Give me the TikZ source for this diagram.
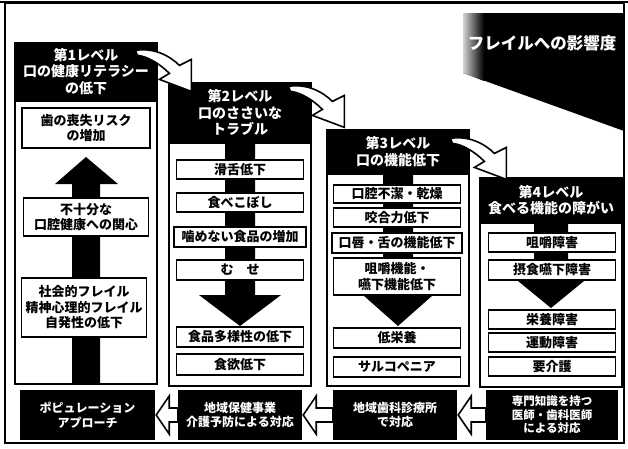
\documentclass[tikz,border=0pt]{standalone}
\usepackage{fontspec}
\setmainfont{Noto Sans CJK JP}
\usetikzlibrary{calc}
\begin{document}
\begin{tikzpicture}[x=1pt,y=-1pt,
  hdr/.style={fill=black,draw=black,line width=1.2pt,text=white,align=center,inner sep=0pt,font=\bfseries\fontsize{14}{16.5}\selectfont},
  ibox/.style={draw=black,fill=white,line width=1.7pt,align=center,inner sep=0pt,font=\bfseries\fontsize{13}{15.5}\selectfont,minimum width=127pt},
  frm/.style={draw=black,line width=1.8pt,inner sep=0pt},
  bbox/.style={fill=black,text=white,align=center,inner sep=0pt,minimum height=50pt,font=\bfseries\fontsize{12}{14.5}\selectfont},
  barrow/.style={fill=white,draw=black,line width=1.6pt,line join=miter},
  bigarrow/.style={fill=black},
  harrow/.pic={\draw[barrow] (-56,-41) .. controls (-38,-44) and (-22,-36) .. (-12,-26) -- (0,-32) -- (0,0) -- (-32,-12) -- (-22,-18) .. controls (-32,-28) and (-44,-35) .. (-54,-36) -- cycle;}
]
\useasboundingbox (0,0) rectangle (628,448);
% outer frame
\draw[line width=1.5pt] (5,3) rectangle (624,443);
\draw[line width=2.5pt] (0,2) -- (628,2);
% title
\fill (463,13) -- (624,13) -- (624,131) -- (463,73) -- cycle;
\shade[left color=gray!35,right color=black] (463,13) -- (484,13) -- (484,81) -- (463,73) -- cycle;
\node[text=white,font=\bfseries\fontsize{16.5}{19}\selectfont] (title) at (542,43) {フレイルへの影響度};

% column frames
\node[frm,minimum width=142pt,minimum height=283pt,anchor=north] (f1) at (86,100) {};
\node[frm,minimum width=142pt,minimum height=243pt,anchor=north] (f2) at (240,142) {};
\node[frm,minimum width=142pt,minimum height=212pt,anchor=north] (f3) at (398,173) {};
\node[frm,minimum width=142pt,minimum height=164pt,anchor=north] (f4) at (551,222) {};

% big arrows
\fill[bigarrow] (72,383) -- (72,184) -- (55,184) -- (86,157) -- (118,184) -- (100,184) -- (100,383) -- cycle;
\fill[bigarrow] (225,142) -- (225,295) -- (199,295) -- (240,326) -- (281,295) -- (255,295) -- (255,142) -- cycle;
\fill[bigarrow] (383,173) -- (383,295) -- (363,295) -- (398,326) -- (433,295) -- (413,295) -- (413,173) -- cycle;
\fill[bigarrow] (534,222) -- (534,281) -- (518,281) -- (551,308) -- (584,281) -- (568,281) -- (568,222) -- cycle;

% column 1 boxes
\node[ibox,minimum width=128pt,minimum height=40pt] (a1) at (86,128) {歯の喪失リスク\\の増加};
\node[ibox,minimum width=125pt,minimum height=38pt] (a2) at (86,217) {不十分な\\口腔健康への関心};
\node[ibox,minimum width=125pt,minimum height=59pt] (a3) at (84,307.5) {社会的フレイル\\精神心理的フレイル\\自発性の低下};

% column 2 boxes
\node[ibox,minimum height=19pt] (b21) at (240,169.5) {滑舌低下};
\node[ibox,minimum height=19pt] (b22) at (240,202.5) {食べこぼし};
\node[ibox,minimum width=132pt,minimum height=20pt] (b23) at (240,237) {噛めない食品の増加};
\node[ibox,minimum height=20pt] (b24) at (240,270) {む　せ};
\node[ibox,minimum height=20pt] (b25) at (240,337) {食品多様性の低下};
\node[ibox,minimum height=21pt] (b26) at (240,364.5) {食欲低下};

% column 3 boxes
\node[ibox,minimum height=18pt] (b31) at (397,194) {口腔不潔・乾燥};
\node[ibox,minimum height=19pt] (b32) at (397,217.5) {咬合力低下};
\node[ibox,minimum width=130pt,minimum height=20pt] (b33) at (397,243) {口唇・舌の機能低下};
\node[ibox,minimum height=37pt] (b34) at (397,276.5) {咀嚼機能・\\嚥下機能低下};
\node[ibox,minimum height=20pt] (b35) at (397,338) {低栄養};
\node[ibox,minimum height=20pt] (b36) at (397,367) {サルコペニア};

% column 4 boxes
\node[ibox,minimum height=19pt] (b41) at (552,242.5) {咀嚼障害};
\node[ibox,minimum height=20pt] (b42) at (552,270) {摂食嚥下障害};
\node[ibox,minimum height=19pt] (b43) at (552,319.5) {栄養障害};
\node[ibox,minimum height=19pt] (b44) at (552,342.5) {運動障害};
\node[ibox,minimum height=19pt] (b45) at (552,366.5) {要介護};

% headers
\node[hdr,minimum width=142pt,minimum height=57pt] (h1) at (86,71.5) {第1レベル\\口の健康リテラシー\\の低下};
\node[hdr,minimum width=142pt,minimum height=59pt] (h2) at (240,112.5) {第2レベル\\口のささいな\\トラブル};
\node[hdr,minimum width=142pt,minimum height=43pt] (h3) at (398,151.5) {第3レベル\\口の機能低下};
\node[hdr,minimum width=142pt,minimum height=44pt] (h4) at (551,200) {第4レベル\\食べる機能の障がい};

% curved arrows between headers
\pic at ($(h2.north west)+(23,9)$) {harrow};
\pic at ($(h3.north west)+(18,-2)$) {harrow};
\pic at ($(h4.north west)+(27,2)$) {harrow};

% bottom boxes
\node[bbox,minimum width=135pt] (p1) at (87.5,415) {ポピュレーション\\アプローチ};
\node[bbox,minimum width=124pt] (p2) at (240,415) {地域保健事業\\介護予防による対応};
\node[bbox,minimum width=124pt] (p3) at (395,415) {地域歯科診療所\\で対応};
\node[bbox,minimum width=132pt,font=\bfseries\fontsize{11.5}{13.5}\selectfont] (p4) at (552,415) {専門知識を持つ\\医師・歯科医師\\による対応};

% bottom arrows
\foreach \l/\r in {p1/p2,p2/p3,p3/p4}{
  \draw[barrow] let \p1=(\l.east), \p2=(\r.west) in
    (\x1+1pt,\y1) -- (\x1+14pt,\y1+19pt) -- (\x1+14pt,\y1+7pt) -- (\x2,\y1+7pt)
    -- (\x2,\y1-7pt) -- (\x1+14pt,\y1-7pt) -- (\x1+14pt,\y1-19pt) -- cycle;
}
\end{tikzpicture}
\end{document}
